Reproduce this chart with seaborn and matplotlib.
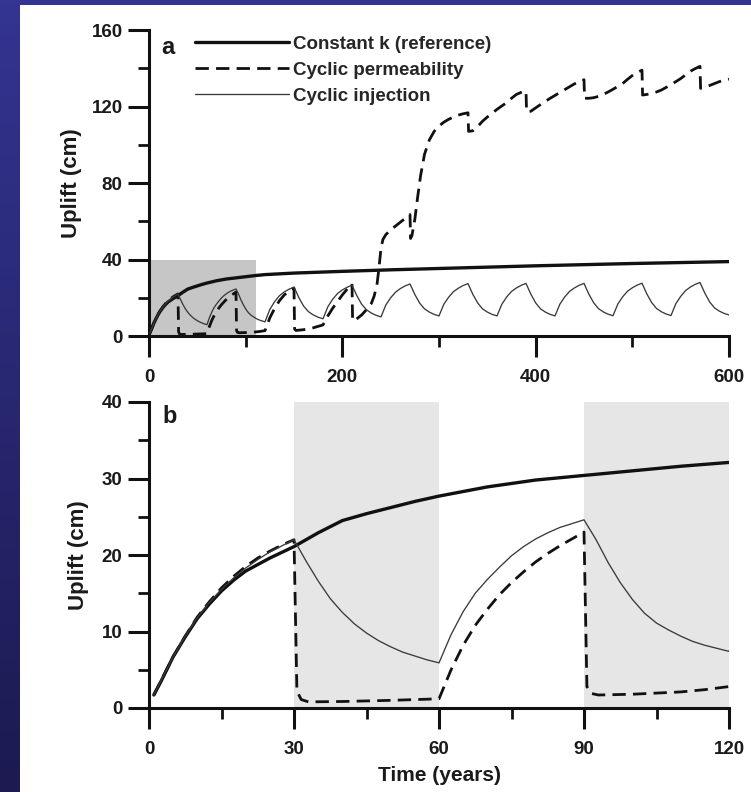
import matplotlib
matplotlib.use("Agg")
import matplotlib.pyplot as plt
from matplotlib import font_manager
from matplotlib.ticker import MultipleLocator
import numpy as np
import pandas as pd
import seaborn as sns

# ---------------------------------------------------------------- data
# Constant permeability (reference run): time (years), uplift (cm)
const_t = [1, 2.5, 5, 7.5, 10, 12.5, 15, 17.5, 20, 25, 30, 35, 40, 45, 50, 55,
           60, 70, 80, 90, 100, 110, 120, 150, 200, 250, 300, 350, 400, 450,
           500, 550, 600]
const_u = [1.7, 3.5, 6.7, 9.3, 11.7, 13.6, 15.3, 16.7, 17.9, 19.6, 21.1, 22.9,
           24.5, 25.4, 26.2, 27.0, 27.7, 28.9, 29.8, 30.4, 31.0, 31.6, 32.1,
           32.9, 33.8, 34.6, 35.3, 36.0, 36.7, 37.3, 37.9, 38.4, 38.9]

# Cyclic permeability run
perm_t = [1, 2.5, 5, 7.5, 10, 12.5, 15, 17.5, 20, 22.5, 25, 27.5, 30,
          30.6, 31.5, 33, 40, 50, 60,
          62.5, 65, 67.5, 70, 72.5, 75, 77.5, 80, 82.5, 85, 87.5, 90,
          90.6, 91.5, 93, 100, 110, 115, 120,
          125, 130, 135, 140, 145, 150, 150.6, 152, 160, 170, 180,
          185, 190, 195, 200, 205, 210, 210.6, 212, 215, 220, 225, 230, 233,
          236, 238, 240, 242, 245, 250, 255, 260, 265, 270, 270.6, 272, 275,
          278, 281, 285, 290, 295, 300, 305, 310, 315, 320, 325, 330, 330.6,
          335, 340, 345, 350, 355, 360, 365, 370, 375, 380, 385, 390, 390.6,
          395, 400, 405, 410, 415, 420, 425, 430, 435, 440, 445, 450, 450.6,
          455, 460, 465, 470, 475, 480, 485, 490, 495, 500, 505, 510, 510.6,
          515, 520, 525, 530, 535, 540, 545, 550, 555, 560, 565, 570, 570.6,
          575, 580, 585, 590, 595, 600]
perm_u = [1.7, 3.6, 6.7, 9.4, 11.9, 13.9, 15.7, 17.2, 18.5, 19.6, 20.5, 21.3, 22.0,
          2.2, 1.1, 0.8, 0.85, 1.0, 1.2,
          5.0, 8.2, 10.8, 12.9, 14.8, 16.4, 17.8, 19.1, 20.2, 21.2, 22.1, 23.0,
          2.8, 1.9, 1.7, 1.8, 2.1, 2.4, 2.8,
          9.5, 14.5, 18.5, 21.5, 23.5, 25.0, 3.6, 2.9, 3.3, 4.3, 5.8,
          10.5, 14.5, 18.0, 21.5, 24.5, 27.3, 8.6, 7.8, 9.0, 11.0, 13.8, 17.0, 21.0,
          27.5, 36.0, 46.0, 50.5, 53.0, 55.5, 57.5, 59.5, 61.5, 63.5, 51.0, 52.5, 61.0,
          73.0, 84.0, 95.0, 102.5, 107.0, 109.8, 111.8, 113.3, 114.5, 115.5, 116.2, 116.7, 107.0,
          107.3, 109.5, 112.3, 114.5, 116.5, 118.5, 120.3, 122.0, 124.3, 126.3, 127.4, 128.0, 117.3,
          117.5, 119.3, 121.0, 122.7, 124.3, 125.8, 127.3, 128.8, 130.3, 131.8, 133.0, 134.0, 124.3,
          124.3, 124.6, 125.3, 126.3, 127.6, 129.0, 130.5, 132.0, 134.2, 136.2, 137.8, 139.0, 126.0,
          126.3, 126.8, 127.6, 128.6, 130.0, 131.5, 133.0, 134.6, 136.5, 138.4, 139.8, 141.0, 129.5,
          130.0, 131.0, 132.0, 133.0, 133.8, 134.3]

# Cyclic injection run
inj_t = [1, 2.5, 5, 7.5, 10, 12.5, 15, 17.5, 20, 22.5, 25, 27.5, 30,
         32.5, 35, 37.5, 40, 42.5, 45, 47.5, 50, 52.5, 55, 57.5, 60,
         62.5, 65, 67.5, 70, 72.5, 75, 77.5, 80, 82.5, 85, 87.5, 90,
         92.5, 95, 97.5, 100, 102.5, 105, 107.5, 110, 112.5, 115, 117.5, 120,
         125, 130, 135, 140, 145, 150, 155, 160, 165, 170, 175, 180,
         185, 190, 195, 200, 205, 210, 215, 220, 225, 230, 235, 240,
         245, 250, 255, 260, 265, 270, 275, 280, 285, 290, 295, 300,
         305, 310, 315, 320, 325, 330, 335, 340, 345, 350, 355, 360,
         365, 370, 375, 380, 385, 390, 395, 400, 405, 410, 415, 420,
         425, 430, 435, 440, 445, 450, 455, 460, 465, 470, 475, 480,
         485, 490, 495, 500, 505, 510, 515, 520, 525, 530, 535, 540,
         545, 550, 555, 560, 565, 570, 575, 580, 585, 590, 595, 600]
inj_u = [1.7, 3.6, 6.7, 9.4, 11.8, 13.8, 15.5, 17.0, 18.3, 19.4, 20.4, 21.2, 22.0,
         19.2, 16.6, 14.3, 12.5, 11.0, 9.8, 8.8, 8.0, 7.3, 6.8, 6.3, 5.9,
         9.6, 12.6, 15.0, 16.8, 18.4, 19.9, 21.1, 22.1, 22.9, 23.6, 24.1, 24.6,
         22.0, 19.0, 16.4, 14.2, 12.4, 11.1, 10.2, 9.4, 8.7, 8.2, 7.8, 7.4,
         13.9, 18.0, 21.1, 23.1, 24.5, 25.6, 20.1, 15.6, 12.7, 11.0, 9.8, 9.0,
         15.3, 19.2, 22.2, 24.1, 25.5, 26.6, 21.1, 16.6, 13.7, 12.0, 10.8, 10.0,
         16.2, 20.0, 22.9, 24.8, 26.2, 27.2, 21.7, 17.2, 14.2, 12.5, 11.3, 10.5,
         16.6, 20.3, 23.2, 25.0, 26.4, 27.4, 21.8, 17.3, 14.2, 12.5, 11.3, 10.5,
         16.6, 20.4, 23.3, 25.1, 26.5, 27.5, 21.9, 17.3, 14.2, 12.5, 11.3, 10.5,
         16.6, 20.4, 23.3, 25.1, 26.5, 27.5, 21.9, 17.4, 14.3, 12.6, 11.4, 10.6,
         16.7, 20.5, 23.4, 25.2, 26.6, 27.6, 22.0, 17.5, 14.4, 12.7, 11.5, 10.7,
         16.9, 20.7, 23.7, 25.6, 27.0, 28.0, 22.4, 17.8, 14.7, 13.0, 11.8, 11.0]

series_names = ["Constant k (reference)", "Cyclic permeability", "Cyclic injection"]

# Shaded spans: window shown enlarged in panel b, and shut-in periods
zoom_window = (0, 111, 0, 40)          # t0, t1, u0, u1
shut_in = [(30, 60), (90, 120)]

# ---------------------------------------------------------------- style
sns.set_theme(style="ticks")
names = {f.name for f in font_manager.fontManager.ttflist}
FONT = "Liberation Sans Narrow" if "Liberation Sans Narrow" in names else "Liberation Sans"
plt.rcParams["font.family"] = [FONT, "DejaVu Sans"]
plt.rcParams["font.weight"] = "bold"

INK = "#111111"
TEXT = "#1a1a1a"
line_styles = {
    series_names[0]: dict(color=INK, lw=2.4, ls="-"),
    series_names[1]: dict(color=INK, lw=2.0, ls=(0, (4.8, 2.6))),
    series_names[2]: dict(color="#3a3a3a", lw=0.95, ls="-"),
}

frames = {
    series_names[0]: pd.DataFrame({"t": const_t, "u": const_u}),
    series_names[1]: pd.DataFrame({"t": perm_t, "u": perm_u}),
    series_names[2]: pd.DataFrame({"t": inj_t, "u": inj_u}),
}

W, H = 751, 792
fig = plt.figure(figsize=(W / 100, H / 100), dpi=100, facecolor="white")

# slide background strips (left gradient, top band)
bg_left = fig.add_axes([0, 0, 20 / W, 1])
grad = np.linspace(0, 1, 256)[:, None]
top_rgb = np.array([0x34, 0x34, 0x92]) / 255
bot_rgb = np.array([0x1c, 0x1a, 0x50]) / 255
img = top_rgb[None, None, :] * (1 - grad[..., None]) + bot_rgb[None, None, :] * grad[..., None]
bg_left.imshow(img, aspect="auto", extent=[0, 1, 0, 1])
bg_left.set_axis_off()
bg_top = fig.add_axes([0, 1 - 5 / H, 1, 5 / H])
bg_top.set_facecolor("#343492")
bg_top.set_xticks([]); bg_top.set_yticks([])
for s in bg_top.spines.values():
    s.set_visible(False)


def px_axes(left, top, right, bottom):
    return fig.add_axes([left / W, 1 - bottom / H, (right - left) / W, (bottom - top) / H])


ax_a = px_axes(149, 30, 729, 336)
ax_b = px_axes(149, 402, 729, 708)

for ax in (ax_a, ax_b):
    ax.set_facecolor("white")
    for name in series_names:
        st = line_styles[name]
        sns.lineplot(data=frames[name], x="t", y="u", ax=ax, estimator=None,
                     sort=False, color=st["color"], linewidth=st["lw"],
                     linestyle=st["ls"], label=name, legend=False, zorder=3)
    sns.despine(ax=ax)
    for side in ("left", "bottom"):
        ax.spines[side].set_linewidth(2.2)
        ax.spines[side].set_color(INK)
    ax.tick_params(which="major", direction="out", length=15, width=2.2,
                   color=INK, labelsize=13.5, labelcolor=TEXT)
    ax.tick_params(which="minor", direction="out", length=8, width=2.0, color=INK)
    ax.tick_params(axis="x", which="major", pad=9)
    ax.tick_params(axis="y", which="major", pad=4)
    ax.set_xlabel("")
    ax.set_ylabel("Uplift (cm)", fontsize=16, fontweight="bold", color=TEXT)

# panel a
t0, t1, u0, u1 = zoom_window
ax_a.fill_between([t0, t1], u0, u1, color="#c6c6c6", lw=0, zorder=1)
ax_a.set_xlim(0, 600)
ax_a.set_ylim(0, 160)
ax_a.xaxis.set_major_locator(MultipleLocator(200))
ax_a.xaxis.set_minor_locator(MultipleLocator(100))
ax_a.yaxis.set_major_locator(MultipleLocator(40))
ax_a.yaxis.set_minor_locator(MultipleLocator(20))
ax_a.yaxis.set_label_coords(-0.116, 0.5)
ax_a.text(0.033, 0.944, "a", transform=ax_a.transAxes, fontsize=17,
          fontweight="bold", ha="center", va="center", color=TEXT)
handles = ax_a.get_lines()[:3]
ax_a.legend(handles, series_names, loc="upper left", bbox_to_anchor=(0.079, 0.982),
            frameon=False, fontsize=13.5, handlelength=5.0, handletextpad=0.25,
            labelspacing=0.47, borderpad=0, borderaxespad=0)

# panel b
for s0, s1 in shut_in:
    ax_b.axvspan(s0, s1, ymin=0, ymax=1, color="#e6e6e6", lw=0, zorder=1)
ax_b.set_xlim(0, 120)
ax_b.set_ylim(0, 40)
ax_b.xaxis.set_major_locator(MultipleLocator(30))
ax_b.xaxis.set_minor_locator(MultipleLocator(15))
ax_b.yaxis.set_major_locator(MultipleLocator(10))
ax_b.yaxis.set_minor_locator(MultipleLocator(5))
ax_b.yaxis.set_label_coords(-0.104, 0.5)
ax_b.set_xlabel("Time (years)", fontsize=15, fontweight="bold", color=TEXT)
ax_b.xaxis.set_label_coords(0.5, -0.19)
ax_b.text(0.036, 0.951, "b", transform=ax_b.transAxes, fontsize=17,
          fontweight="bold", ha="center", va="center", color=TEXT)

for ax in (ax_a, ax_b):
    for lab in ax.get_xticklabels() + ax.get_yticklabels():
        lab.set_fontweight("bold")

fig.savefig("out.png", dpi=100, facecolor="white")
